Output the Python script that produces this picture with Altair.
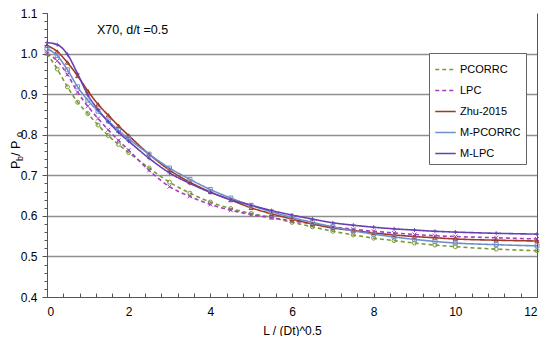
import altair as alt
import pandas as pd

# ---------------- data ----------------
x_vals = [0, 0.25, 0.5, 0.75, 1, 1.25, 1.5, 1.75, 2, 2.5, 3, 3.5, 4, 4.5,
          5, 5.5, 6, 6.5, 7, 7.5, 8, 8.5, 9, 9.5, 10, 11, 12]

series_names = ["PCORRC", "LPC", "Zhu-2015", "M-PCORRC", "M-LPC"]

pcorrc = [1.000, 0.962, 0.918, 0.880, 0.852, 0.824, 0.798, 0.776, 0.756, 0.718,
          0.683, 0.656, 0.634, 0.618, 0.606, 0.596, 0.584, 0.573, 0.562, 0.553,
          0.545, 0.539, 0.533, 0.528, 0.524, 0.518, 0.514]
lpc = [1.000, 0.982, 0.948, 0.905, 0.870, 0.840, 0.812, 0.786, 0.762, 0.712,
       0.672, 0.648, 0.628, 0.614, 0.603, 0.595, 0.588, 0.580, 0.573, 0.567,
       0.562, 0.558, 0.554, 0.551, 0.549, 0.546, 0.543]
zhu = [1.020, 1.005, 0.978, 0.945, 0.908, 0.875, 0.848, 0.822, 0.798, 0.752,
       0.713, 0.683, 0.659, 0.639, 0.620, 0.605, 0.592, 0.580, 0.570, 0.564,
       0.558, 0.553, 0.549, 0.546, 0.543, 0.540, 0.538]
m_pcorrc = [1.012, 0.995, 0.960, 0.918, 0.885, 0.858, 0.834, 0.811, 0.790, 0.752,
            0.718, 0.690, 0.665, 0.644, 0.626, 0.610, 0.596, 0.584, 0.573, 0.563,
            0.555, 0.548, 0.542, 0.537, 0.533, 0.529, 0.526]
m_lpc = [1.027, 1.022, 0.998, 0.950, 0.898, 0.862, 0.832, 0.806, 0.784, 0.742,
         0.706, 0.680, 0.658, 0.640, 0.626, 0.613, 0.602, 0.592, 0.583, 0.577,
         0.572, 0.568, 0.565, 0.562, 0.560, 0.557, 0.555]

series_values = [pcorrc, lpc, zhu, m_pcorrc, m_lpc]

colors = ["#7A9A3A", "#A43CC4", "#9E3A26", "#6F8FCC", "#6640B0"]
dashes = [[4, 3], [4, 3], [1, 0], [1, 0], [1, 0]]
shapes = ["circle", "M-1,-1L1,1M-1,1L1,-1", "triangle-up", "square",
          "M-1,0L1,0M0,-1L0,1"]

y_major = [0.4, 0.5, 0.6, 0.7, 0.8, 0.9, 1.0, 1.1]
y_grid = [0.5, 0.6, 0.7, 0.8, 0.9, 1.0]
y_minor = [round(0.4 + i * 0.02, 2) for i in range(36)]
x_major = [0, 2, 4, 6, 8, 10, 12]
x_minor = [round(i * 0.4, 1) for i in range(31)]

annotation = "X70, d/t =0.5"
x_title = "L / (Dt)^0.5"

rows = []
for name, vals in zip(series_names, series_values):
    for xv, yv in zip(x_vals, vals):
        rows.append({"x": xv, "y": yv, "series": name})
df = pd.DataFrame(rows)

# ---------------- layout ----------------
FONT = "Liberation Sans"
W, H = 490, 284
AX = "#555555"

xs = alt.Scale(domain=[0, 12], nice=False, zero=False)
ys = alt.Scale(domain=[0.4, 1.1], nice=False, zero=False)

legend = alt.Legend(title=None, symbolType="stroke")

color = alt.Color("series:N", sort=series_names,
                  scale=alt.Scale(domain=series_names, range=colors), legend=legend)
dash = alt.StrokeDash("series:N", sort=series_names,
                      scale=alt.Scale(domain=series_names, range=dashes), legend=legend)

base = alt.Chart(df)

lines = base.mark_line(strokeWidth=1.6, interpolate="monotone").encode(
    x=alt.X("x:Q", scale=xs, axis=alt.Axis(
        values=x_major, format="d", ticks=False, labelPadding=9,
        labelFontSize=12, labelFont=FONT, labelColor="black",
        domainColor=AX, grid=False, title=x_title, titleFont=FONT,
        titleFontSize=12, titleFontWeight="normal", titleColor="black",
        titlePadding=8)),
    y=alt.Y("y:Q", scale=ys, axis=alt.Axis(
        values=y_major, format=".1f", tickSize=5, tickColor=AX,
        labelFontSize=12, labelFont=FONT, labelColor="black", labelPadding=5,
        domainColor=AX, grid=False, title=None, orient="left")),
    color=color,
    strokeDash=dash,
    order="x:Q",
)

point_layers = []
for name, col, shp in zip(series_names, colors, shapes):
    point_layers.append(
        base.transform_filter(alt.datum.series == name).mark_point(
            filled=False, size=16, strokeWidth=1, opacity=1, color=col, shape=shp
        ).encode(
            x=alt.X("x:Q", scale=xs, axis=None),
            y=alt.Y("y:Q", scale=ys, axis=None),
        )
    )

grid = base.mark_point(opacity=0, size=0).encode(
    x=alt.X("x:Q", scale=xs, axis=None),
    y=alt.Y("y:Q", scale=ys, axis=alt.Axis(
        values=y_grid, grid=True, gridColor="#8f8f8f", gridWidth=1.5,
        ticks=False, labels=False, domain=False, title=None, orient="left")),
)

minor_y = base.mark_point(opacity=0, size=0).encode(
    x=alt.X("x:Q", scale=xs, axis=None),
    y=alt.Y("y:Q", scale=ys, axis=alt.Axis(
        values=y_minor, tickSize=3, tickColor=AX, labels=False, domain=False,
        grid=False, title=None, orient="left")),
)

minor_x = base.mark_point(opacity=0, size=0).encode(
    x=alt.X("x:Q", scale=xs, axis=alt.Axis(
        values=x_minor, tickSize=4, tickColor=AX, labels=False, domain=False,
        grid=False, title=None, orient="top", offset=-H)),
    y=alt.Y("y:Q", scale=ys, axis=None),
)

right_border = base.mark_point(opacity=0, size=0).encode(
    x=alt.X("x:Q", scale=xs, axis=None),
    y=alt.Y("y:Q", scale=ys, axis=alt.Axis(
        ticks=False, labels=False, domain=True, domainColor=AX, grid=False,
        title=None, orient="right")),
)

def txt(s, x, y, size, angle=0):
    return alt.Chart(pd.DataFrame({"t": [s]})).mark_text(
        text=s, align="left", baseline="middle", font=FONT, fontSize=size,
        color="black", angle=angle
    ).encode(x=alt.value(x), y=alt.value(y))

note = txt(annotation, 50, 17, 12.5)

# y axis title  P_b / P_0  (rotated, with subscripts)
yt_P = txt("P", -31, 156, 12.5, 270)
yt_b = txt("b", -27, 148, 9, 270)
yt_mid = txt(" / P", -31, 143, 12.5, 270)
yt_0 = txt("0", -27, 124, 9, 270)

chart = alt.layer(
    grid, minor_y, minor_x, right_border, lines, *point_layers,
    note, yt_P, yt_b, yt_mid, yt_0
).resolve_axis(
    x="independent", y="independent"
).properties(
    width=W, height=H,
    autosize=alt.AutoSizeParams(type="none"),
    padding={"left": 39, "top": 5, "right": 5, "bottom": 39},
).configure_view(
    stroke=None
).configure_legend(
    orient="none", legendX=382, legendY=40,
    fillColor="white", strokeColor="#666666", padding=5,
    rowPadding=4, labelFont=FONT, labelFontSize=11, labelColor="black",
    symbolSize=420, symbolStrokeWidth=1.6, labelOffset=3,
)

chart.save("out.html", embed_options={"renderer": "svg", "actions": False})
